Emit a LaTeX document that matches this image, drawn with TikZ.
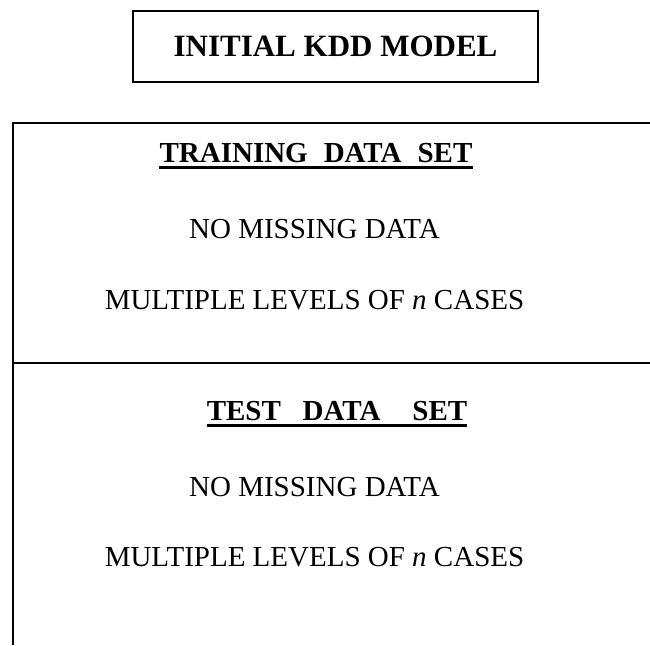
\documentclass[tikz,border=0pt]{standalone}
\usepackage{fontspec}
\setmainfont{Liberation Serif}

\begin{document}
\begin{tikzpicture}[x=1pt,y=-1pt,
    title/.style={font=\fontsize{31}{36}\selectfont\bfseries},
    head/.style={font=\fontsize{29}{34}\selectfont\bfseries, inner sep=0pt},
    body/.style={font=\fontsize{29}{34}\selectfont, inner sep=0pt},
    rule/.style={line width=1.5pt}]
    \useasboundingbox (0,0) rectangle (650,645);

    % Title box
    \node[title, draw, rule, minimum width=405pt, minimum height=71pt] (model) at (335.5,46.5) {INITIAL KDD MODEL};

    % Frame lines
    \coordinate (tl) at (13,123);
    \coordinate (tr) at (650,123);
    \coordinate (ml) at (13,363);
    \coordinate (mr) at (650,363);
    \coordinate (bl) at (13,645);
    \draw[rule] (tr) -- (tl) -- (bl);
    \draw[rule] (ml) -- (mr);

    % Training section
    \node[head] (train) at (316,153) {TRAINING\hspace{0.55em}DATA\hspace{0.55em}SET};
    \draw[line width=3pt] ([yshift=-5pt]train.south west) -- ([yshift=-5pt]train.south east);
    \node[body] (trainmiss) at (314.5,229) {NO MISSING DATA};
    \node[body] (trainlevels) at (314.5,300) {MULTIPLE LEVELS OF \textit{n} CASES};

    % Test section
    \node[head] (test) at (337,411) {TEST\hspace{0.75em}DATA\hspace{1.1em}SET};
    \draw[line width=3pt] ([yshift=-5pt]test.south west) -- ([yshift=-5pt]test.south east);
    \node[body] (testmiss) at (314.5,487) {NO MISSING DATA};
    \node[body] (testlevels) at (314.5,557) {MULTIPLE LEVELS OF \textit{n} CASES};
\end{tikzpicture}
\end{document}
